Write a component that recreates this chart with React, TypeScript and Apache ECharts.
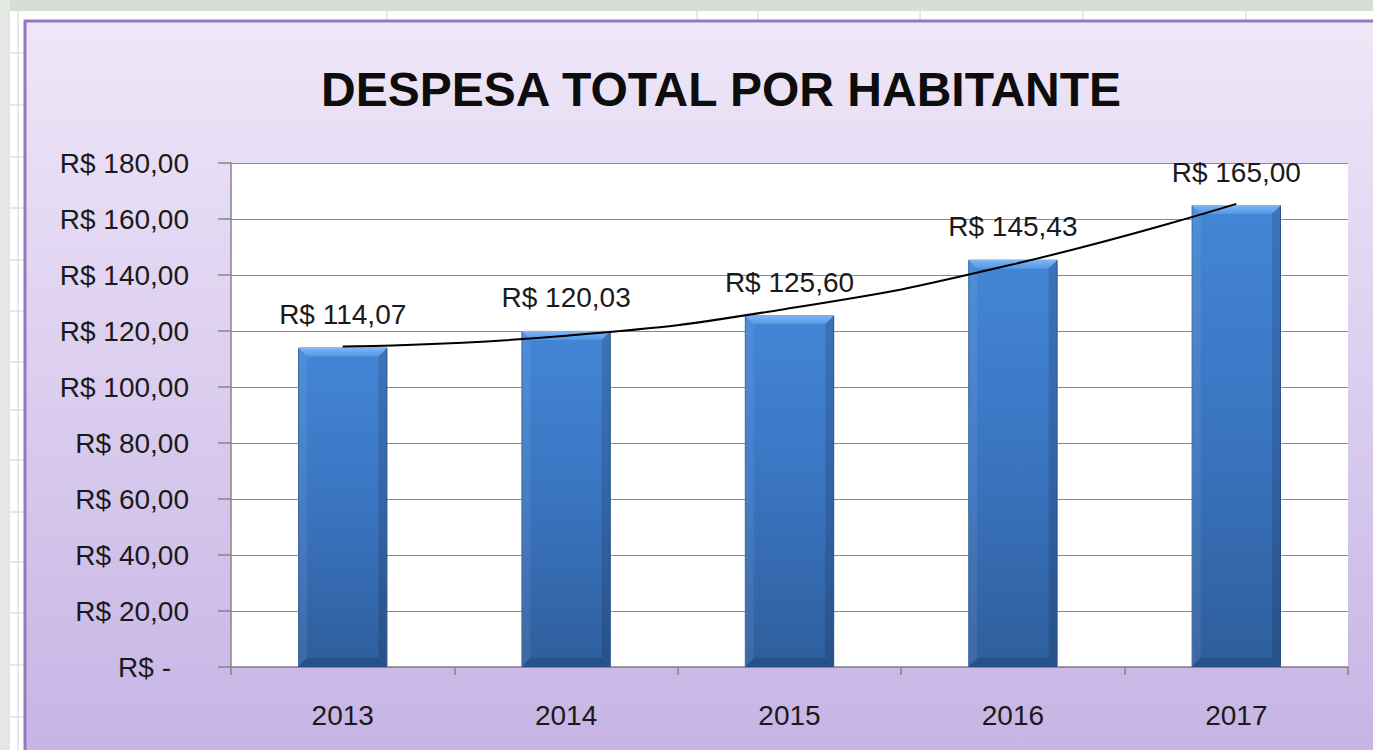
import React, { useEffect, useRef } from "react";
import * as echarts from "echarts";

const categories = ["2013", "2014", "2015", "2016", "2017"];
const despesa = [114.07, 120.03, 125.6, 145.43, 165.0];
// polynomial trendline (value at each category centre)
const tendencia = [114.5, 118.3, 128.1, 143.8, 165.4];
const yTicks = { min: 0, max: 180, interval: 20 };

const fmt = (v: number) => "R$ " + v.toFixed(2).replace(".", ",");

const FONT = "Liberation Sans";

export default function App() {
  const ref = useRef<HTMLDivElement>(null);
  useEffect(() => {
    if (!ref.current) return;
    const chart = echarts.init(ref.current, undefined, { renderer: "svg" });

    const outerLines: any[] = [];
    [53, 105, 157, 208, 260, 311, 362, 410, 460, 512, 562, 613, 665, 717].forEach((y) =>
      outerLines.push({ type: "line", shape: { x1: 10, y1: y, x2: 24, y2: y }, style: { stroke: "#d0d0d0", lineWidth: 1 }, silent: true })
    );
    [387, 697, 758, 920, 1083, 1246].forEach((x) =>
      outerLines.push({ type: "line", shape: { x1: x, y1: 11, x2: x, y2: 20 }, style: { stroke: "#d0d0d0", lineWidth: 1 }, silent: true })
    );
    outerLines.push({ type: "line", shape: { x1: 18, y1: 11, x2: 18, y2: 750 }, style: { stroke: "#d0d0d0", lineWidth: 1 }, silent: true });

    const option: any = {
      animation: false,
      backgroundColor: "#ffffff",
      graphic: [
        { type: "rect", z: -10, shape: { x: 0, y: 0, width: 1373, height: 11 }, style: { fill: "#d8ddd6" }, silent: true },
        { type: "rect", z: -10, shape: { x: 0, y: 0, width: 10, height: 750 }, style: { fill: "#e4e8e3" }, silent: true },
        ...outerLines.map((l) => ({ ...l, z: -9 })),
        {
          type: "rect",
          z: -8,
          shape: { x: 25, y: 21, width: 1400, height: 800 },
          style: {
            fill: new echarts.graphic.LinearGradient(0, 0, 0, 1, [
              { offset: 0, color: "#efe7f8" },
              { offset: 1, color: "#c3afe3" },
            ]),
            stroke: "#9479bc",
            lineWidth: 3,
          },
          silent: true,
        },
      ],
      title: {
        text: "DESPESA TOTAL POR HABITANTE",
        left: 316,
        top: 60,
        textStyle: { fontFamily: FONT, fontSize: 48, fontWeight: "bold", color: "#0d0d0d" },
      },
      grid: {
        left: 231,
        top: 163,
        width: 1117,
        height: 504,
        show: true,
        backgroundColor: "#ffffff",
        borderWidth: 0,
      },
      xAxis: {
        type: "category",
        data: categories,
        boundaryGap: true,
        axisLine: { lineStyle: { color: "#868686", width: 1.5 } },
        axisTick: { show: true, length: 8, lineStyle: { color: "#868686", width: 1.5 } },
        axisLabel: { margin: 34, fontFamily: FONT, fontSize: 28, color: "#1a1a1a" },
      },
      yAxis: {
        type: "value",
        min: yTicks.min,
        max: yTicks.max,
        interval: yTicks.interval,
        axisLine: { show: true, lineStyle: { color: "#868686", width: 1.5 } },
        axisTick: { show: true, length: 13, lineStyle: { color: "#868686", width: 1.5 } },
        splitLine: { lineStyle: { color: "#8a8a8a", width: 1 } },
        axisLabel: {
          margin: 42,
          fontFamily: FONT,
          fontSize: 28,
          color: "#1a1a1a",
          formatter: (v: number) => (v === 0 ? "{d|R$ -}" : fmt(v)),
          rich: { d: { fontFamily: FONT, fontSize: 28, color: "#1a1a1a", padding: [0, 18, 0, 0] } },
        },
      },
      series: [
        {
          type: "bar",
          data: despesa,
          barWidth: "40%",
          z: 2,
          itemStyle: {
            color: new echarts.graphic.LinearGradient(0, 0, 0, 1, [
              { offset: 0, color: "#4386d6" },
              { offset: 0.5, color: "#3a74c0" },
              { offset: 1, color: "#2e5e9c" },
            ]),
            borderColor: "#2f5d98",
            borderWidth: 1,
          },
          label: {
            show: true,
            position: "top",
            distance: 19,
            fontFamily: FONT,
            fontSize: 28,
            color: "#1a1a1a",
            formatter: (p: any) => fmt(p.value),
          },
        },
        {
          type: "custom",
          z: 3,
          silent: true,
          data: despesa.map((v, i) => [i, v]),
          renderItem: (params: any, api: any) => {
            const idx = api.value(0);
            const val = api.value(1);
            const top = api.coord([idx, val]);
            const bot = api.coord([idx, 0]);
            const w = api.size([1, 0])[0] * 0.4;
            const x0 = top[0] - w / 2;
            const x1 = x0 + w;
            const y0 = top[1];
            const y1 = bot[1];
            const b = 9;
            return {
              type: "group",
              children: [
                {
                  type: "polygon",
                  shape: { points: [[x0, y0], [x1, y0], [x1 - b, y0 + b], [x0 + b, y0 + b]] },
                  style: {
                    fill: new echarts.graphic.LinearGradient(0, 0, 0, 1, [
                      { offset: 0, color: "#80b8f2" },
                      { offset: 1, color: "#5296e2" },
                    ]),
                  },
                },
                {
                  type: "polygon",
                  shape: { points: [[x0, y0], [x0 + b, y0 + b], [x0 + b, y1 - b], [x0, y1]] },
                  style: { fill: "rgba(255,255,255,0.07)" },
                },
                {
                  type: "polygon",
                  shape: { points: [[x1, y0], [x1 - b, y0 + b], [x1 - b, y1 - b], [x1, y1]] },
                  style: { fill: "rgba(0,0,0,0.13)" },
                },
                {
                  type: "polygon",
                  shape: { points: [[x0, y1], [x0 + b, y1 - b], [x1 - b, y1 - b], [x1, y1]] },
                  style: { fill: "rgba(0,0,0,0.14)" },
                },
              ],
            };
          },
        },
        {
          type: "line",
          data: tendencia,
          smooth: true,
          symbol: "none",
          z: 5,
          lineStyle: { color: "#000000", width: 2 },
        },
      ],
    };
    chart.setOption(option);
    return () => chart.dispose();
  }, []);
  return <div ref={ref} style={{ position: "fixed", left: 0, top: 0, width: 1373, height: 750 }} />;
}
